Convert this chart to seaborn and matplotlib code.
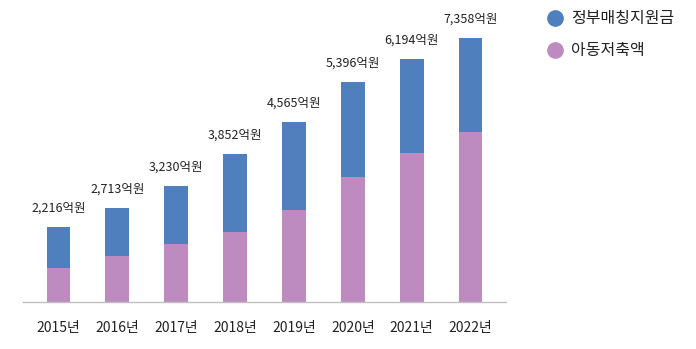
import matplotlib
matplotlib.use("Agg")
import matplotlib.pyplot as plt
import seaborn as sns
import pandas as pd
from matplotlib.lines import Line2D

years = ["2015년", "2016년", "2017년", "2018년", "2019년", "2020년", "2021년", "2022년"]
savings = [947, 1281, 1623, 1957, 2561, 3480, 4157, 4733]        # 아동저축액
gov_match = [1133, 1345, 1606, 2155, 2458, 2636, 2617, 2625]     # 정부매칭지원금
total_labels = ["2,216억원", "2,713억원", "3,230억원", "3,852억원",
                "4,565억원", "5,396억원", "6,194억원", "7,358억원"]
series_names = ["정부매칭지원금", "아동저축액"]

BLUE = "#4F80BD"
PURPLE = "#BD8BBF"

sns.set_theme(style="white")
plt.rcParams['font.family'] = ['Noto Sans CJK KR', 'DejaVu Sans']

df = pd.DataFrame({"year": years, "savings": savings, "gov": gov_match})
df["total"] = df["savings"] + df["gov"]

fig = plt.figure(figsize=(6.96, 3.49), dpi=100)
ax = fig.add_axes([23/696, 47/349, 483/696, 292/349])

sns.barplot(data=df, x="year", y="total", color=BLUE, width=0.4, ax=ax,
            saturation=1, linewidth=0)
sns.barplot(data=df, x="year", y="savings", color=PURPLE, width=0.4, ax=ax,
            saturation=1, linewidth=0)

ax.set_xlim(-0.6, 7.6)
ax.set_ylim(0, 292 * 7358 / 264.3)

for i, (t, lab) in enumerate(zip(df["total"], total_labels)):
    ax.annotate(lab, (i, t), xytext=(0, 13.5), textcoords="offset points",
                ha="center", va="center", fontsize=9, color="#222222")

for s in ["top", "right", "left"]:
    ax.spines[s].set_visible(False)
ax.spines["bottom"].set_color("#BFBFBF")
ax.spines["bottom"].set_linewidth(1.0)
ax.set_yticks([])
ax.set_xlabel("")
ax.set_ylabel("")
ax.tick_params(axis="x", length=0, pad=14, labelsize=10, labelcolor="#222222")

handles = [Line2D([], [], marker="o", linestyle="", markersize=11, color=BLUE),
           Line2D([], [], marker="o", linestyle="", markersize=11, color=PURPLE)]
fig.legend(handles, series_names, loc="upper left", bbox_to_anchor=(525/696, 1.012),
           frameon=False, fontsize=11.5, handletextpad=0.0, labelspacing=0.95,
           labelcolor="#222222")

fig.savefig("out.png", dpi=100)
